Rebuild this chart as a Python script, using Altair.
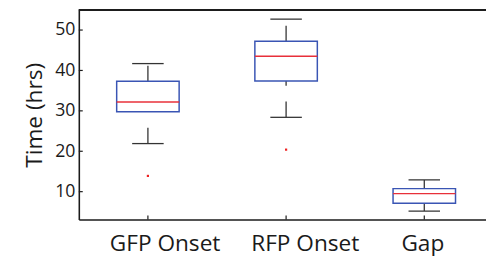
import json
import altair as alt
import pandas as pd

categories = ["GFP Onset", "RFP Onset", "Gap"]
lower_whisker = [21.9, 28.4, 5.2]
q1 = [29.8, 37.4, 7.15]
median = [32.2, 43.5, 9.5]
q3 = [37.3, 47.2, 10.75]
upper_whisker = [41.7, 52.7, 12.9]
outlier_cat = ["GFP Onset", "RFP Onset"]
outlier_val = [13.9, 20.4]
y_ticks = [10, 20, 30, 40, 50]

W, H = 414, 213
FONT = "Open Sans"
LABEL_SHIFT = [17, 19, -2]  # pixel offsets of the category labels (style)

box_df = pd.DataFrame({
    "cat": categories,
    "pos": list(range(1, len(categories) + 1)),
    "lo": lower_whisker, "q1": q1, "med": median, "q3": q3, "hi": upper_whisker,
})
out_df = pd.DataFrame({
    "pos": [categories.index(c) + 1 for c in outlier_cat],
    "val": outlier_val,
})
ytick_df = pd.DataFrame({"v": y_ticks})
xtick_df = pd.DataFrame({"pos": list(range(1, len(categories) + 1))})

xscale = alt.Scale(domain=[0.5, 3.4466], nice=False, zero=False)
yscale = alt.Scale(domain=[3.1, 54.95], nice=False, zero=False)

label_expr = json.dumps(categories) + "[datum.value - 1]"
offset_expr = json.dumps(LABEL_SHIFT) + "[datum.value - 1]"

base = alt.Chart(box_df).transform_calculate(
    bl="datum.pos - 0.226", br="datum.pos + 0.226",
    cl="datum.pos - 0.114", cr="datum.pos + 0.114",
)

xenc = alt.X("pos:Q", scale=xscale, axis=alt.Axis(
    values=[1, 2, 3], labelExpr=label_expr, ticks=False, grid=False,
    domain=True, domainColor="#1a1a1a", domainWidth=1.6,
    labelFont=FONT, labelFontSize=23, labelColor="#1a1a1a", labelPadding=13,
    labelOffset={"expr": offset_expr}, labelOverlap=False, labelBound=False,
    labelFlush=False,
    title=None))
yaxis = alt.Axis(values=y_ticks, ticks=False, grid=False, domain=True,
                 domainColor="#1a1a1a", domainWidth=1.6,
                 labelFont=FONT, labelFontSize=18, labelColor="#1a1a1a",
                 labelPadding=4, title="Time (hrs)", titleFont=FONT,
                 titleFontSize=23, titleFontWeight="normal", titleColor="#1a1a1a",
                 titlePadding=8)

upper = base.mark_rule(color="#333333", strokeWidth=1.3, strokeDash=[16, 16]).encode(
    x=xenc, y=alt.Y("q3:Q", scale=yscale, axis=yaxis), y2="hi:Q")
lower = base.mark_rule(color="#333333", strokeWidth=1.3, strokeDash=[16, 16]).encode(
    x="pos:Q", y="lo:Q", y2="q1:Q")
cap_hi = base.mark_rule(color="#333333", strokeWidth=1.3).encode(
    x="cl:Q", x2="cr:Q", y="hi:Q")
cap_lo = base.mark_rule(color="#333333", strokeWidth=1.3).encode(
    x="cl:Q", x2="cr:Q", y="lo:Q")
box = base.mark_rect(fill="white", stroke="#3a55b4", strokeWidth=1.5).encode(
    x="bl:Q", x2="br:Q", y="q1:Q", y2="q3:Q")
med = base.mark_rule(color="#e8303a", strokeWidth=1.4).encode(
    x="bl:Q", x2="br:Q", y="med:Q")
outl = alt.Chart(out_df).mark_square(color="#ee2222", size=5, opacity=1).encode(
    x="pos:Q", y="val:Q")

yt = alt.Chart(ytick_df).mark_rule(color="#1a1a1a", strokeWidth=1.2).encode(
    y="v:Q", x=alt.value(0), x2=alt.value(4))
xt = alt.Chart(xtick_df).mark_rule(color="#1a1a1a", strokeWidth=1.2).encode(
    x="pos:Q", y=alt.value(H), y2=alt.value(H - 4))
top = alt.Chart(xtick_df).mark_rule(color="#1a1a1a", strokeWidth=1.6).encode(
    x=alt.value(0), x2=alt.value(W), y=alt.value(0))

chart = alt.layer(upper, lower, cap_hi, cap_lo, box, med, outl, yt, xt, top).properties(
    width=W, height=H,
    autosize=alt.AutoSizeParams(type="none"),
    padding={"left": 72, "top": 0, "right": 0, "bottom": 36},
).configure_view(stroke=None)

chart.save("out.html", embed_options={"renderer": "svg", "actions": False})
